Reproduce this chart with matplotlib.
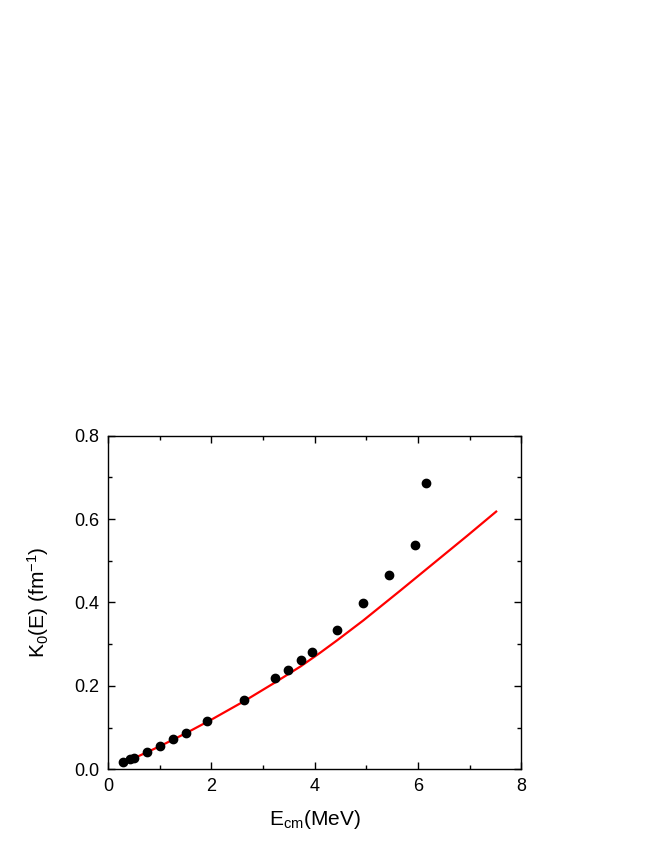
import matplotlib
matplotlib.use("Agg")
import matplotlib.pyplot as plt
from matplotlib.ticker import MultipleLocator, FormatStrFormatter

plt.rcParams['font.family'] = ['Liberation Sans', 'DejaVu Sans']
plt.rcParams['mathtext.fontset'] = 'custom'
plt.rcParams['mathtext.rm'] = 'Liberation Sans'
plt.rcParams['mathtext.it'] = 'Liberation Sans'

# Data points (E_cm in MeV, K0 in fm^-1)
e_data = [0.29, 0.42, 0.50, 0.75, 1.00, 1.25, 1.50, 1.92, 2.63, 3.23, 3.48, 3.73, 3.94,
          4.44, 4.94, 5.44, 5.94, 6.15]
k_data = [0.017, 0.024, 0.027, 0.042, 0.057, 0.072, 0.088, 0.115, 0.166, 0.218, 0.238,
          0.262, 0.281, 0.335, 0.399, 0.467, 0.537, 0.687]

# Model curve
e_curve = [0.30, 0.60, 1.00, 1.50, 2.00, 2.63, 3.23, 3.73, 4.10, 4.43, 4.94, 5.44, 5.65,
           6.30, 6.95, 7.51]
k_curve = [0.015, 0.032, 0.055, 0.086, 0.119, 0.163, 0.208, 0.247, 0.279, 0.309, 0.357,
           0.407, 0.428, 0.494, 0.560, 0.618]

fig = plt.figure(figsize=(6.54, 8.46), dpi=100)
ax = fig.add_axes([0.1651, 0.0907, 0.6323, 0.3943])

ax.plot(e_curve, k_curve, color='red', lw=1.6, zorder=2)
ax.plot(e_data, k_data, 'o', color='black', ms=6, zorder=3)

ax.set_xlim(0, 8)
ax.set_ylim(0, 0.8)
ax.xaxis.set_major_locator(MultipleLocator(2))
ax.xaxis.set_minor_locator(MultipleLocator(1))
ax.yaxis.set_major_locator(MultipleLocator(0.2))
ax.yaxis.set_minor_locator(MultipleLocator(0.1))
ax.tick_params(which='both', direction='in', top=True, right=True, width=1)
ax.tick_params(which='major', length=5, labelsize=13)
ax.tick_params(which='minor', length=3)
ax.tick_params(axis='x', which='major', pad=6)
ax.tick_params(axis='y', which='major', pad=6)
ax.yaxis.set_major_formatter(FormatStrFormatter('%.1f'))
for s in ax.spines.values():
    s.set_linewidth(1)

ax.set_xlabel(r'E$_{\mathrm{cm}}$(MeV)', fontsize=15, labelpad=10)
ax.set_ylabel(r'K$_0$(E) (fm$^{\mathrm{-1}}$)', fontsize=15, labelpad=17)

fig.savefig('out.png', dpi=100)
